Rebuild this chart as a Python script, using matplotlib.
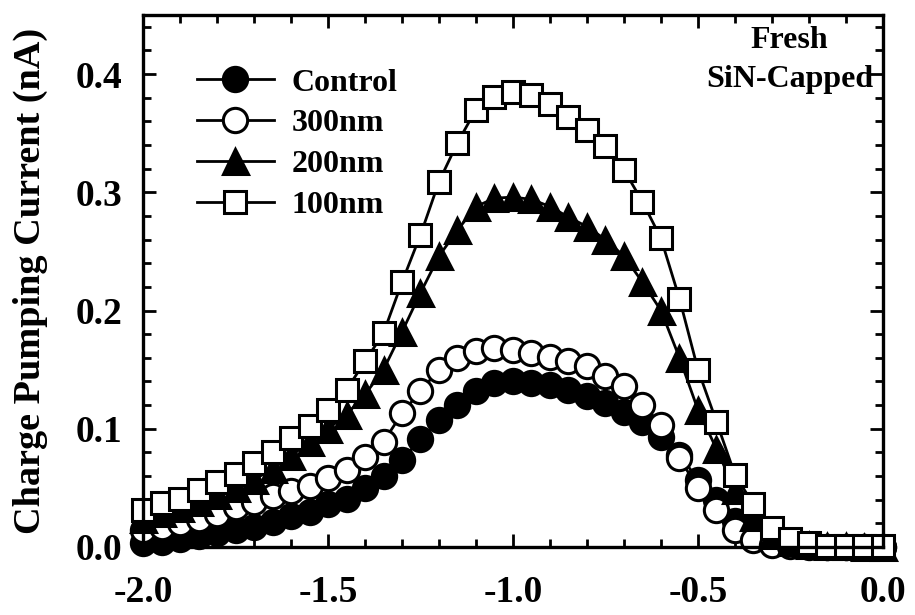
import matplotlib
matplotlib.use('Agg')
import matplotlib.pyplot as plt
from matplotlib.ticker import MultipleLocator

plt.rcParams['font.family'] = ['Liberation Serif', 'DejaVu Serif']
plt.rcParams['font.weight'] = 'bold'

# gate voltage sweep (V)
vg = [-2.00, -1.95, -1.90, -1.85, -1.80, -1.75, -1.70, -1.65, -1.60, -1.55,
      -1.50, -1.45, -1.40, -1.35, -1.30, -1.25, -1.20, -1.15, -1.10, -1.05,
      -1.00, -0.95, -0.90, -0.85, -0.80, -0.75, -0.70, -0.65, -0.60, -0.55,
      -0.50, -0.45, -0.40, -0.35, -0.30, -0.25, -0.20, -0.15, -0.10, -0.05,
      0.00]

# charge pumping current (nA)
control = [0.003, 0.004, 0.007, 0.009, 0.012, 0.014, 0.017, 0.021, 0.026, 0.030,
           0.036, 0.041, 0.050, 0.060, 0.074, 0.091, 0.107, 0.120, 0.132, 0.139,
           0.140, 0.139, 0.137, 0.133, 0.128, 0.122, 0.114, 0.106, 0.093, 0.078,
           0.057, 0.040, 0.022, 0.010, 0.004, 0.002, 0.001, 0.000, 0.000, 0.000,
           0.000]
nm300 = [0.014, 0.017, 0.020, 0.024, 0.028, 0.034, 0.038, 0.043, 0.047, 0.052,
         0.058, 0.065, 0.076, 0.089, 0.113, 0.132, 0.150, 0.160, 0.166, 0.168,
         0.167, 0.164, 0.161, 0.157, 0.153, 0.145, 0.136, 0.120, 0.103, 0.075,
         0.050, 0.031, 0.014, 0.006, 0.002, 0.001, 0.000, 0.000, 0.000, 0.000,
         0.000]
nm200 = [0.024, 0.029, 0.033, 0.038, 0.044, 0.050, 0.057, 0.066, 0.077, 0.089,
         0.100, 0.112, 0.129, 0.150, 0.182, 0.215, 0.246, 0.268, 0.288, 0.295,
         0.296, 0.294, 0.288, 0.279, 0.271, 0.260, 0.246, 0.224, 0.200, 0.160,
         0.116, 0.083, 0.048, 0.025, 0.010, 0.004, 0.002, 0.001, 0.001, 0.000,
         0.000]
nm100 = [0.031, 0.037, 0.041, 0.048, 0.055, 0.062, 0.071, 0.080, 0.092, 0.102,
         0.116, 0.133, 0.157, 0.181, 0.224, 0.264, 0.309, 0.342, 0.370, 0.381,
         0.385, 0.382, 0.375, 0.364, 0.353, 0.339, 0.319, 0.292, 0.261, 0.210,
         0.150, 0.106, 0.061, 0.036, 0.016, 0.007, 0.003, 0.001, 0.001, 0.001,
         0.001]

fig = plt.figure(figsize=(9.15, 6.15), dpi=100)
ax = fig.add_axes([0.1563, 0.1106, 0.8087, 0.865])

lw = 2.0
mew = 2.2
ax.plot(vg, control, '-o', color='black', mfc='black', mec='black',
        ms=17.5, mew=mew, lw=lw, label='Control', clip_on=False)
ax.plot(vg, nm300, '-o', color='black', mfc='white', mec='black',
        ms=17.5, mew=mew, lw=lw, label='300nm', clip_on=False)
ax.plot(vg, nm200, '-^', color='black', mfc='black', mec='black',
        ms=18, mew=mew, lw=lw, label='200nm', clip_on=False)
ax.plot(vg, nm100, '-s', color='black', mfc='white', mec='black',
        ms=15.5, mew=mew, lw=lw, label='100nm', clip_on=False)

ax.set_xlim(-2.0, 0.0)
ax.set_ylim(0.0, 0.45)
ax.xaxis.set_major_locator(MultipleLocator(0.5))
ax.xaxis.set_minor_locator(MultipleLocator(0.1))
ax.yaxis.set_major_locator(MultipleLocator(0.1))
ax.yaxis.set_minor_locator(MultipleLocator(0.02))
ax.xaxis.set_major_formatter(plt.FormatStrFormatter('%.1f'))
ax.yaxis.set_major_formatter(plt.FormatStrFormatter('%.1f'))

ax.tick_params(which='both', direction='in', top=True, right=True, width=2)
ax.tick_params(which='major', length=9.5, labelsize=27)
ax.tick_params(which='minor', length=6)
ax.tick_params(axis='x', which='major', pad=20)
ax.tick_params(axis='y', which='major', pad=15)
for s in ax.spines.values():
    s.set_linewidth(2.4)

ax.set_ylabel('Charge Pumping Current (nA)', fontsize=27.5, fontweight='bold')
ax.yaxis.set_label_coords(-0.128, 0.5)

ax.legend(loc='upper left', bbox_to_anchor=(0.073, 0.9), frameon=False,
          fontsize=23, handlelength=2.4, handletextpad=0.55,
          labelspacing=0.36, borderpad=0, borderaxespad=0)

ax.text(0.874, 0.953, 'Fresh', transform=ax.transAxes,
        ha='center', va='center', fontsize=23, fontweight='bold')
ax.text(0.874, 0.878, 'SiN-Capped', transform=ax.transAxes,
        ha='center', va='center', fontsize=23, fontweight='bold')

fig.savefig('out.png', dpi=100)
